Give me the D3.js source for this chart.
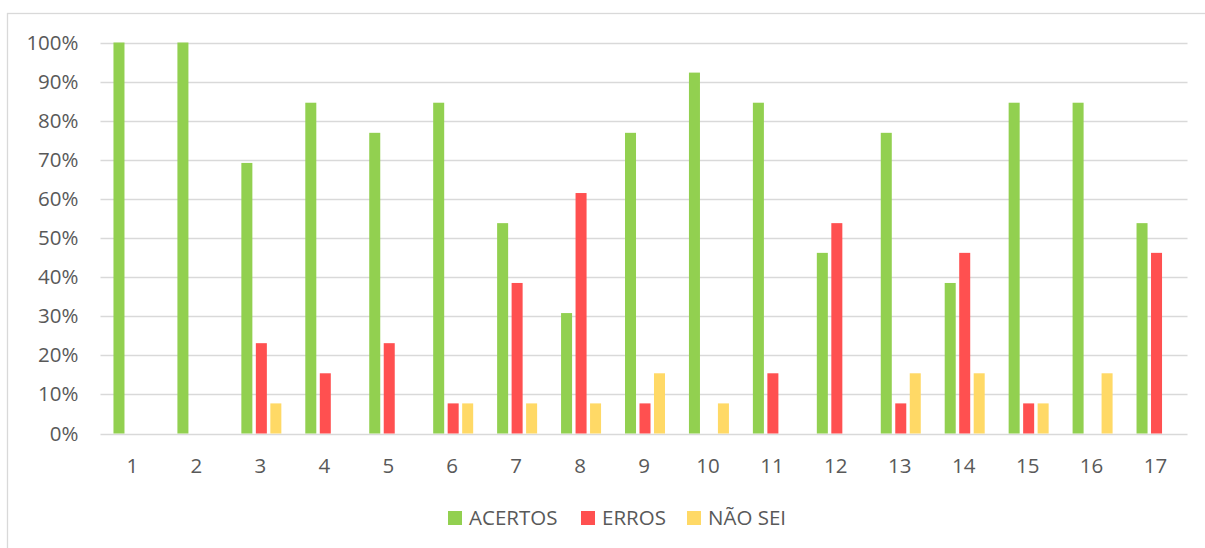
<!DOCTYPE html>
<html>
<head>
<meta charset="utf-8">
<script src="https://cdn.jsdelivr.net/npm/d3@7"></script>
<style>
  body { margin: 0; background: #fff; }
  svg { display: block; font-family: "Open Sans", sans-serif; }
</style>
</head>
<body>
<svg id="chart" width="1205" height="548"></svg>
<script>
var questions = ["1","2","3","4","5","6","7","8","9","10","11","12","13","14","15","16","17"];
var series = ["ACERTOS", "ERROS", "NÃO SEI"];
var acertos = [100, 100, 69.2, 84.6, 76.9, 84.6, 53.8, 30.8, 76.9, 92.3, 84.6, 46.2, 76.9, 38.5, 84.6, 84.6, 53.8];
var erros   = [0, 0, 23.1, 15.4, 23.1, 7.7, 38.5, 61.5, 7.7, 0, 15.4, 53.8, 7.7, 46.2, 7.7, 0, 46.2];
var naoSei  = [0, 0, 7.7, 0, 0, 7.7, 7.7, 7.7, 15.4, 7.7, 0, 0, 15.4, 15.4, 7.7, 15.4, 0];
var yTicks  = [0, 10, 20, 30, 40, 50, 60, 70, 80, 90, 100];
var colors  = ["#92D050", "#FF5050", "#FFD966"];

var svg = d3.select("#chart");
var fontSize = "20.5px";

// outer frame of the chart area
svg.append("rect")
  .attr("x", 7.5).attr("y", 13.5)
  .attr("width", 1300).attr("height", 600)
  .attr("fill", "none").attr("stroke", "#d9d9d9").attr("stroke-width", 1.3);

var plotLeft = 100.5, plotRight = 1187.5, plotTop = 42.5, plotBottom = 433.5;

var x0 = d3.scaleBand().domain(questions).range([plotLeft, plotRight]);
var x1 = d3.scaleBand().domain(series).range([-19, 21]).paddingInner(0.24);
var y = d3.scaleLinear().domain([0, 100]).range([plotBottom, plotTop]);

// gridlines
svg.append("g").selectAll("line")
  .data(yTicks)
  .join("line")
  .attr("x1", plotLeft).attr("x2", plotRight)
  .attr("y1", function(d) { return Math.round(y(d)) + 0.5; })
  .attr("y2", function(d) { return Math.round(y(d)) + 0.5; })
  .attr("stroke", "#d9d9d9").attr("stroke-width", 1.5);

// y axis labels
var yAxis = d3.axisLeft(y).tickValues(yTicks).tickSize(0).tickPadding(22)
  .tickFormat(function(d) { return d + "%"; });
var gy = svg.append("g").attr("transform", "translate(" + plotLeft + ",0)").call(yAxis);
gy.select(".domain").remove();
gy.selectAll("text").attr("font-size", fontSize).attr("fill", "#595959")
  .attr("font-family", "Open Sans, sans-serif");

// x axis labels
var xAxis = d3.axisBottom(x0).tickSize(0).tickPadding(25);
var gx = svg.append("g").attr("transform", "translate(0," + plotBottom + ")").call(xAxis);
gx.select(".domain").remove();
gx.selectAll("text").attr("font-size", fontSize).attr("fill", "#595959")
  .attr("font-family", "Open Sans, sans-serif");

// bars
var allSeries = [acertos, erros, naoSei];
var rows = questions.map(function(q, i) {
  return series.map(function(s, j) { return { q: q, s: s, v: allSeries[j][i], c: colors[j] }; });
});

svg.append("g").selectAll("g")
  .data(rows)
  .join("g")
  .attr("transform", function(d) { return "translate(" + (x0(d[0].q) + x0.bandwidth() / 2) + ",0)"; })
  .selectAll("rect")
  .data(function(d) { return d.filter(function(e) { return e.v > 0; }); })
  .join("rect")
  .attr("x", function(d) { return x1(d.s); })
  .attr("width", x1.bandwidth())
  .attr("y", function(d) { return y(d.v); })
  .attr("height", function(d) { return plotBottom - y(d.v); })
  .attr("fill", function(d) { return d.c; });

// legend
var legendItems = [
  { name: series[0], color: colors[0], x: 448 },
  { name: series[1], color: colors[1], x: 581 },
  { name: series[2], color: colors[2], x: 687 }
];
var lg = svg.append("g").selectAll("g")
  .data(legendItems)
  .join("g")
  .attr("transform", function(d) { return "translate(" + d.x + ",511)"; });
lg.append("rect").attr("width", 14).attr("height", 14).attr("fill", function(d) { return d.color; });
lg.append("text").attr("x", 21).attr("y", 7).attr("dy", "0.35em")
  .attr("font-size", fontSize).attr("fill", "#595959")
  .text(function(d) { return d.name; });
</script>
</body>
</html>
